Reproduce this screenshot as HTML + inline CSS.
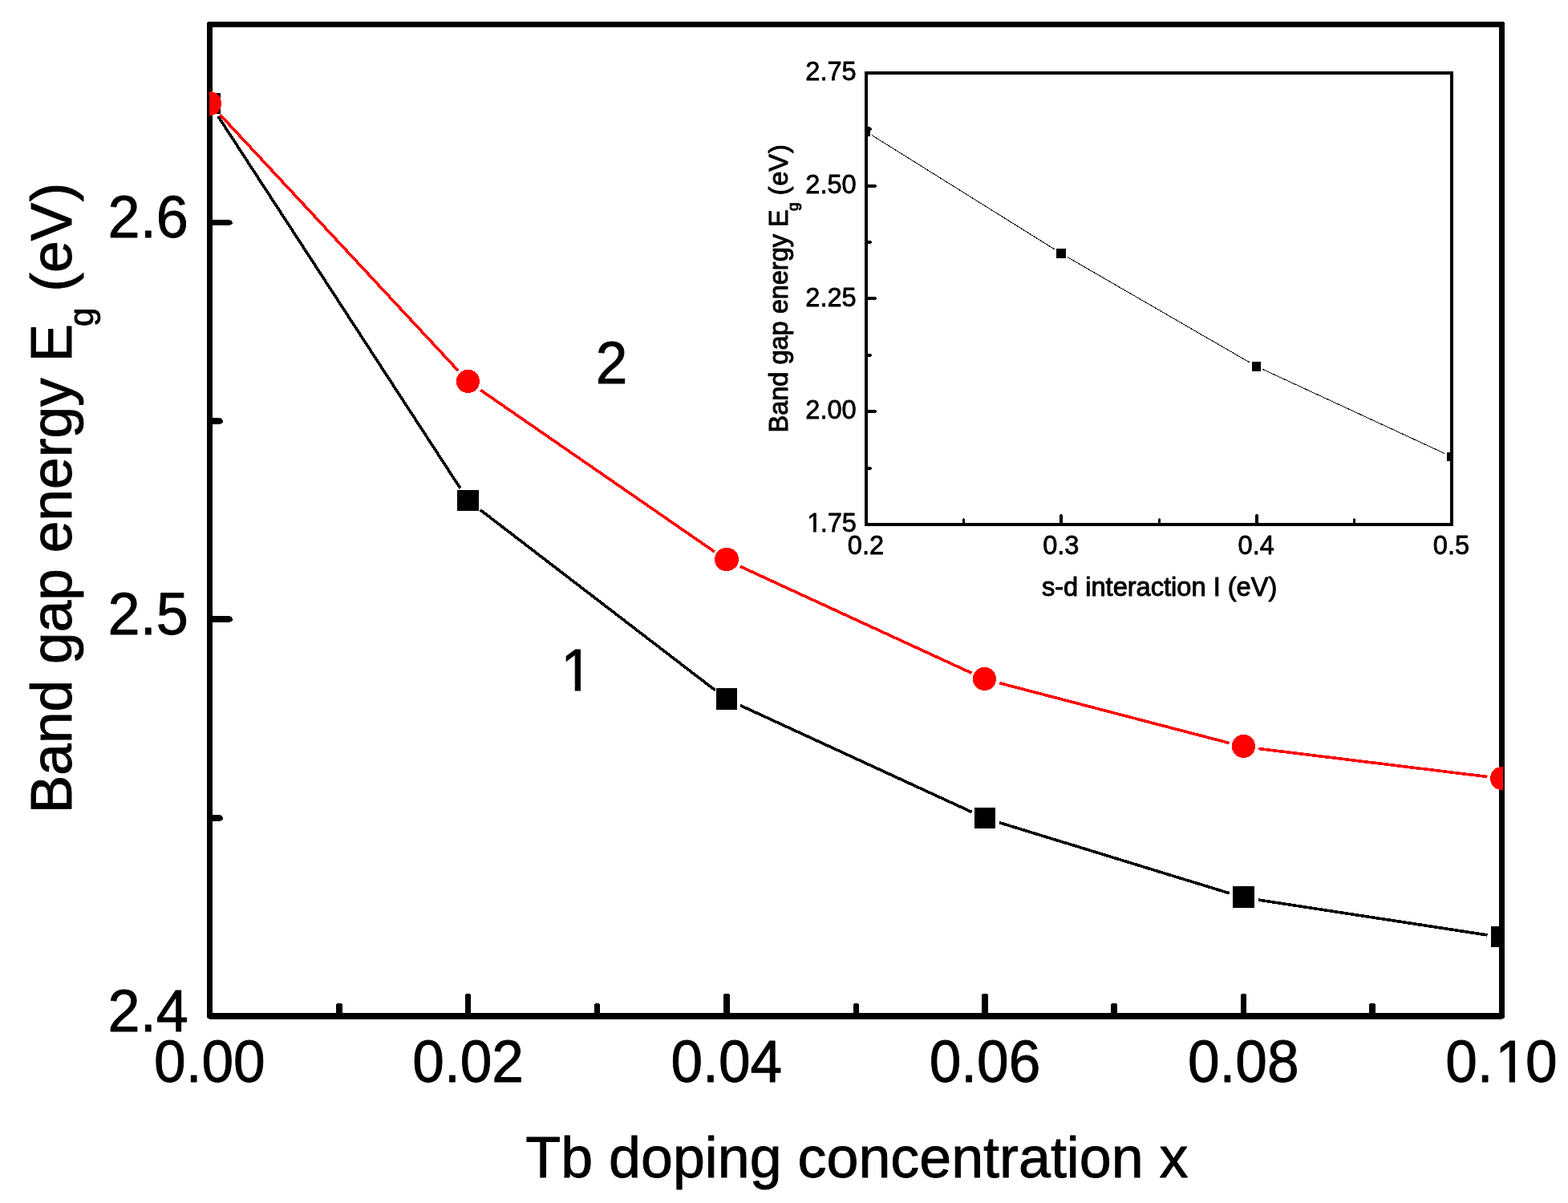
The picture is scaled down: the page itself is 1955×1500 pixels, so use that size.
<!DOCTYPE html>
<html lang="en"><head><meta charset="utf-8"><title>Band gap energy vs Tb doping concentration</title>
<style>html,body{margin:0;padding:0;background:#fff;}body{width:1955px;height:1500px;overflow:hidden;}svg{display:block;position:absolute;left:0;top:0;}text{font-family:"Liberation Sans", sans-serif;fill:#000;}</style>
</head><body>
<svg width="1955" height="1500" viewBox="0 0 1955 1500" role="img" aria-label="Band gap energy versus Tb doping concentration, with inset of band gap energy versus s-d interaction">
<rect x="0" y="0" width="1955" height="1500" fill="#ffffff"/>
<defs><clipPath id="cm"><rect x="261" y="0" width="1613" height="1500"/></clipPath>
<clipPath id="ci"><rect x="1078" y="0" width="732" height="1500"/></clipPath></defs>
<g fill="#000" shape-rendering="crispEdges">
<rect x="258" y="27" width="1618" height="7"/>
<rect x="258" y="1263" width="1618" height="8"/>
<rect x="258" y="27" width="7" height="1244"/>
<rect x="1869" y="27" width="7" height="1244"/>
</g>
<g fill="#fff" shape-rendering="crispEdges">
<rect x="258" y="27" width="1" height="1"/>
<rect x="1875" y="27" width="1" height="1"/>
<rect x="258" y="1269" width="1" height="2"/>
<rect x="259" y="1270" width="2" height="1"/>
<rect x="1875" y="1269" width="1" height="2"/>
<rect x="1873" y="1270" width="2" height="1"/>
</g>
<g fill="#000" shape-rendering="crispEdges">
<rect x="419" y="1252" width="8" height="12"/>
<rect x="420" y="1251" width="6" height="1"/>
<rect x="580" y="1240" width="7" height="24"/>
<rect x="581" y="1239" width="5" height="1"/>
<rect x="741" y="1252" width="7" height="12"/>
<rect x="742" y="1251" width="5" height="1"/>
<rect x="902" y="1240" width="8" height="24"/>
<rect x="903" y="1239" width="6" height="1"/>
<rect x="1064" y="1252" width="7" height="12"/>
<rect x="1065" y="1251" width="5" height="1"/>
<rect x="1224" y="1240" width="8" height="24"/>
<rect x="1225" y="1239" width="6" height="1"/>
<rect x="1385" y="1252" width="8" height="12"/>
<rect x="1386" y="1251" width="6" height="1"/>
<rect x="1547" y="1240" width="7" height="24"/>
<rect x="1548" y="1239" width="5" height="1"/>
<rect x="1707" y="1252" width="8" height="12"/>
<rect x="1708" y="1251" width="6" height="1"/>
<rect x="264" y="274" width="23" height="7"/>
<rect x="287" y="275" width="2" height="5"/>
<rect x="289" y="277" width="1" height="2"/>
<rect x="264" y="521" width="11" height="8"/>
<rect x="275" y="522" width="2" height="6"/>
<rect x="277" y="524" width="1" height="3"/>
<rect x="264" y="768" width="23" height="8"/>
<rect x="287" y="769" width="2" height="6"/>
<rect x="289" y="771" width="1" height="3"/>
<rect x="264" y="1016" width="11" height="8"/>
<rect x="275" y="1017" width="2" height="6"/>
<rect x="277" y="1019" width="1" height="3"/>
</g>
<text transform="translate(261.40,1348.80) scale(1,1.050)" font-size="71.2" text-anchor="middle" stroke="#000" stroke-width="0.90" stroke-linejoin="round">0.00</text>
<text transform="translate(583.60,1348.80) scale(1,1.050)" font-size="71.2" text-anchor="middle" stroke="#000" stroke-width="0.90" stroke-linejoin="round">0.02</text>
<text transform="translate(905.80,1348.80) scale(1,1.050)" font-size="71.2" text-anchor="middle" stroke="#000" stroke-width="0.90" stroke-linejoin="round">0.04</text>
<text transform="translate(1228.00,1348.80) scale(1,1.050)" font-size="71.2" text-anchor="middle" stroke="#000" stroke-width="0.90" stroke-linejoin="round">0.06</text>
<text transform="translate(1550.20,1348.80) scale(1,1.050)" font-size="71.2" text-anchor="middle" stroke="#000" stroke-width="0.90" stroke-linejoin="round">0.08</text>
<g transform="translate(1872.40,1348.80) scale(1,1.050)"><text x="-70.19 -30.59 -8.11 29.69" font-size="71.2" text-anchor="start" stroke="#000" stroke-width="0.90" stroke-linejoin="round">0.10</text>
<rect x="-4.63" y="-6.37" width="13.98" height="8.22" fill="#fff"/>
<rect x="16.54" y="-6.37" width="13.87" height="8.22" fill="#fff"/>
</g>
<text transform="translate(234.70,1286.20) scale(1,1.030)" font-size="72" text-anchor="end" stroke="#000" stroke-width="0.90" stroke-linejoin="round">2.4</text>
<text transform="translate(234.70,791.32) scale(1,1.030)" font-size="72" text-anchor="end" stroke="#000" stroke-width="0.90" stroke-linejoin="round">2.5</text>
<text transform="translate(234.70,296.44) scale(1,1.030)" font-size="72" text-anchor="end" stroke="#000" stroke-width="0.90" stroke-linejoin="round">2.6</text>
<text transform="translate(1068.40,1468.00)" font-size="71.8" text-anchor="middle" stroke="#000" stroke-width="0.90" stroke-linejoin="round">Tb doping concentration x</text>
<text transform="translate(88.80,1014.30) rotate(-90) scale(1,1.010)" font-size="71.3" text-anchor="start" stroke="#000" stroke-width="0.90" stroke-linejoin="round">Band gap energy E<tspan font-size="42" dy="27" dx="-3">g</tspan><tspan dy="-27"> (eV</tspan><tspan dx="1.3">)</tspan></text>
<text transform="translate(762.50,478.00) scale(1,1.050)" font-size="71.2" text-anchor="middle" stroke="#000" stroke-width="0.90" stroke-linejoin="round">2</text>
<g transform="translate(719.10,861.00) scale(1,1.050)"><text x="-19.80" font-size="71.2" text-anchor="start" stroke="#000" stroke-width="0.90" stroke-linejoin="round">1</text>
<rect x="-16.33" y="-6.37" width="13.98" height="8.22" fill="#fff"/>
<rect x="4.85" y="-6.37" width="13.87" height="8.22" fill="#fff"/>
</g>
<g clip-path="url(#cm)">
<g stroke="#000" stroke-width="3.6" fill="none" shape-rendering="crispEdges" transform="translate(0.3,0.3)">
<line x1="271.59" y1="144.68" x2="573.61" y2="608.55"/>
<line x1="598.37" y1="635.32" x2="891.23" y2="860.23"/>
<line x1="922.70" y1="879.24" x2="1211.30" y2="1012.22"/>
<line x1="1245.78" y1="1025.39" x2="1532.62" y2="1113.50"/>
<line x1="1568.59" y1="1121.74" x2="1854.21" y2="1165.62"/>
</g>
<g fill="#000" shape-rendering="crispEdges">
<rect x="249" y="116" width="26" height="26"/>
<rect x="570" y="611" width="27" height="26"/>
<rect x="893" y="858" width="26" height="27"/>
<rect x="1215" y="1007" width="26" height="26"/>
<rect x="1537" y="1105" width="27" height="27"/>
<rect x="1859" y="1155" width="26" height="26"/>
</g>
<g stroke="#ff0000" stroke-width="3.6" fill="none" shape-rendering="crispEdges" transform="translate(0.3,0.3)">
<line x1="274.10" y1="142.72" x2="571.10" y2="462.05"/>
<line x1="598.92" y1="486.11" x2="890.68" y2="687.77"/>
<line x1="922.70" y1="706.03" x2="1211.30" y2="839.01"/>
<line x1="1246.00" y1="851.43" x2="1532.40" y2="926.21"/>
<line x1="1568.66" y1="933.14" x2="1854.14" y2="968.22"/>
</g>
<g fill="#ff0000" shape-rendering="crispEdges">
<ellipse cx="261.5" cy="129.0" rx="14.6" ry="15.0"/>
<ellipse cx="583.5" cy="475.5" rx="14.6" ry="14.6"/>
<ellipse cx="906.0" cy="697.5" rx="15.0" ry="14.6"/>
<ellipse cx="1227.5" cy="846.5" rx="14.6" ry="14.6"/>
<ellipse cx="1550.5" cy="930.5" rx="14.6" ry="14.6"/>
<ellipse cx="1872.6" cy="970.5" rx="14.6" ry="14.6"/>
</g>
</g>
<g clip-path="url(#ci)">
<g stroke="#000" stroke-width="1" fill="none" shape-rendering="crispEdges" transform="translate(-0.5,-0.3)">
<line x1="1087.63" y1="168.96" x2="1315.70" y2="311.43"/>
<line x1="1331.12" y1="320.71" x2="1558.88" y2="452.44"/>
<line x1="1574.83" y1="460.73" x2="1801.83" y2="565.77"/>
</g>
<g fill="#000" shape-rendering="crispEdges">
<rect x="1074" y="158" width="11" height="12"/>
<rect x="1317" y="310" width="12" height="12"/>
<rect x="1561" y="451" width="11" height="12"/>
<rect x="1804" y="564" width="12" height="11"/>
</g>
</g>
<g stroke="#000" stroke-width="4" fill="none" shape-rendering="crispEdges">
<rect x="1080.00" y="91.00" width="730.00" height="563.00"/>
</g>
<g fill="#000" shape-rendering="crispEdges">
<rect x="1200" y="647" width="3" height="6"/>
<rect x="1201" y="646" width="1" height="1"/>
<rect x="1321" y="642" width="4" height="11"/>
<rect x="1322" y="641" width="2" height="1"/>
<rect x="1444" y="647" width="3" height="6"/>
<rect x="1445" y="646" width="1" height="1"/>
<rect x="1565" y="642" width="4" height="11"/>
<rect x="1566" y="641" width="2" height="1"/>
<rect x="1687" y="647" width="3" height="6"/>
<rect x="1688" y="646" width="1" height="1"/>
<rect x="1081" y="582" width="5" height="4"/>
<rect x="1086" y="583" width="1" height="2"/>
<rect x="1081" y="511" width="11" height="4"/>
<rect x="1092" y="512" width="1" height="2"/>
<rect x="1081" y="441" width="5" height="4"/>
<rect x="1086" y="442" width="1" height="2"/>
<rect x="1081" y="370" width="11" height="4"/>
<rect x="1092" y="371" width="1" height="2"/>
<rect x="1081" y="300" width="5" height="4"/>
<rect x="1086" y="301" width="1" height="2"/>
<rect x="1081" y="230" width="11" height="4"/>
<rect x="1092" y="231" width="1" height="2"/>
<rect x="1081" y="159" width="5" height="4"/>
<rect x="1086" y="160" width="1" height="2"/>
</g>
<text transform="translate(1079.50,691.30) scale(1,1.040)" font-size="32.6" text-anchor="middle" stroke="#000" stroke-width="0.80" stroke-linejoin="round">0.2</text>
<text transform="translate(1322.83,691.30) scale(1,1.040)" font-size="32.6" text-anchor="middle" stroke="#000" stroke-width="0.80" stroke-linejoin="round">0.3</text>
<text transform="translate(1566.17,691.30) scale(1,1.040)" font-size="32.6" text-anchor="middle" stroke="#000" stroke-width="0.80" stroke-linejoin="round">0.4</text>
<text transform="translate(1809.50,691.30) scale(1,1.040)" font-size="32.6" text-anchor="middle" stroke="#000" stroke-width="0.80" stroke-linejoin="round">0.5</text>
<g transform="translate(1067.70,663.00) scale(1,1.040)"><text x="-61.45 -44.92 -35.86 -17.83" font-size="32.6" text-anchor="start" stroke="#000" stroke-width="0.80" stroke-linejoin="round">1.75</text>
<rect x="-60.87" y="-3.44" width="7.21" height="5.24" fill="#fff"/>
<rect x="-49.97" y="-3.44" width="7.36" height="5.24" fill="#fff"/>
</g>
<text transform="translate(1067.70,522.25) scale(1,1.040)" font-size="32.6" text-anchor="end" stroke="#000" stroke-width="0.80" stroke-linejoin="round">2.00</text>
<text transform="translate(1067.70,381.50) scale(1,1.040)" font-size="32.6" text-anchor="end" stroke="#000" stroke-width="0.80" stroke-linejoin="round">2.25</text>
<text transform="translate(1067.70,240.75) scale(1,1.040)" font-size="32.6" text-anchor="end" stroke="#000" stroke-width="0.80" stroke-linejoin="round">2.50</text>
<text transform="translate(1067.70,100.00) scale(1,1.040)" font-size="32.6" text-anchor="end" stroke="#000" stroke-width="0.80" stroke-linejoin="round">2.75</text>
<text transform="translate(1445.60,742.60) scale(1,1.030)" font-size="32.6" text-anchor="middle" stroke="#000" stroke-width="1.00" stroke-linejoin="round">s-d interaction I (eV)</text>
<text transform="translate(982.30,539.50) rotate(-90) scale(1,1.010)" font-size="32.5" text-anchor="start" stroke="#000" stroke-width="1.00" stroke-linejoin="round">Band gap energy E<tspan font-size="19" dy="13" dx="-1.7">g</tspan><tspan dy="-13" dx="-0.2"> (</tspan><tspan dx="1">eV</tspan><tspan dx="1">)</tspan></text>
</svg>
</body></html>
